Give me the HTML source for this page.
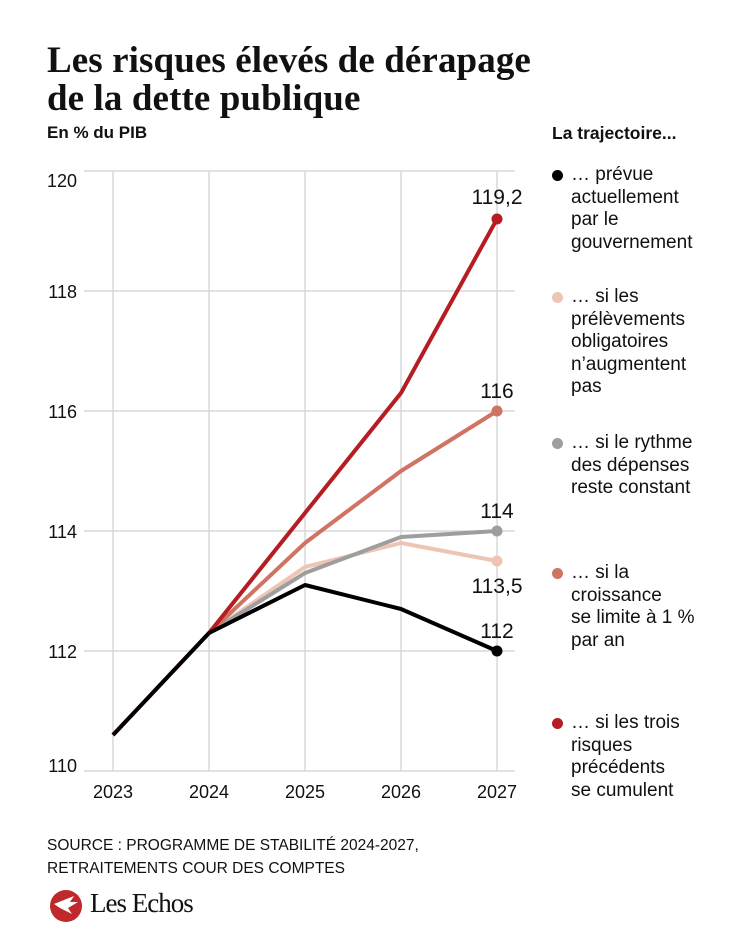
<!DOCTYPE html>
<html><head><meta charset="utf-8"><style>
body{margin:0;background:#fff;width:750px;height:938px;overflow:hidden;font-family:"Liberation Sans",sans-serif;color:#111}
h1{position:absolute;left:47px;top:42px;margin:0;font-family:"Liberation Serif",serif;font-size:37px;line-height:38px;font-weight:bold;letter-spacing:0.1px}
.sub{position:absolute;left:47px;top:123px;font-size:17px;font-weight:bold}
.lt{position:absolute;left:552px;top:123px;font-size:17.5px;font-weight:bold}
.leg{position:absolute;left:571px;font-size:19px;line-height:22.5px}
.dot{position:absolute;left:552px;width:11px;height:11px;border-radius:50%}
.src{position:absolute;left:47px;top:834px;font-size:15.5px;line-height:23px}
.logo{position:absolute;left:47px;top:888px;font-family:"Liberation Serif",serif;font-size:27px;letter-spacing:-1px}
</style></head><body>
<h1>Les risques élevés de dérapage<br>de la dette publique</h1>
<div class="sub">En % du PIB</div>
<div class="lt">La trajectoire...</div>
<svg width="750" height="938" style="position:absolute;left:0;top:0">
<g stroke="#d8d8d8" stroke-width="1.5">
<line x1="84" y1="171" x2="515" y2="171"/><line x1="84" y1="291" x2="515" y2="291"/><line x1="84" y1="411" x2="515" y2="411"/><line x1="84" y1="531" x2="515" y2="531"/><line x1="84" y1="651" x2="515" y2="651"/><line x1="84" y1="771" x2="515" y2="771"/>
<line x1="113" y1="171" x2="113" y2="771"/><line x1="209" y1="171" x2="209" y2="771"/><line x1="305" y1="171" x2="305" y2="771"/><line x1="401" y1="171" x2="401" y2="771"/><line x1="497" y1="171" x2="497" y2="771"/>
</g>
<g font-size="18" fill="#111" text-anchor="end">
<text x="77" y="187">120</text><text x="77" y="298">118</text><text x="77" y="418">116</text><text x="77" y="538">114</text><text x="77" y="658">112</text><text x="77" y="772">110</text></g>
<g font-size="18" fill="#111" text-anchor="middle">
<text x="113" y="798">2023</text><text x="209" y="798">2024</text><text x="305" y="798">2025</text><text x="401" y="798">2026</text><text x="497" y="798">2027</text></g>
<g fill="none" stroke-width="4" stroke-linejoin="round">
<polyline stroke="#eec5b5" points="209,633 305,567 401,543 497,561"/>
<polyline stroke="#9e9e9e" points="209,633 305,573 401,537 497,531"/>
<polyline stroke="#cf7362" points="209,633 305,543 401,471 497,411"/>
<polyline stroke="#b51d22" points="113,735 209,633 305,513 401,393 497,219"/>
<polyline stroke="#000" points="113,735 209,633 305,585 401,609 497,651"/>
</g>
<circle cx="497" cy="219" r="5.5" fill="#b51d22"/><circle cx="497" cy="411" r="5.5" fill="#cf7362"/><circle cx="497" cy="531" r="5.5" fill="#9e9e9e"/><circle cx="497" cy="561" r="5.5" fill="#eec5b5"/><circle cx="497" cy="651" r="5.5" fill="#000"/>
<g font-size="21" fill="#111" text-anchor="middle">
<text x="497" y="204">119,2</text><text x="497" y="398">116</text><text x="497" y="518">114</text><text x="497" y="593">113,5</text><text x="497" y="638">112</text></g>
<circle cx="66" cy="906" r="16" fill="#c0282b"/>
<path d="M54 904 l20 -8 l-4 6 l8 0 l-10 6 l4 6 l-12 -6z" fill="#fff"/>
</svg>
<div class="dot" style="top:170px;background:#000"></div>
<div class="leg" style="top:164px">… prévue<br>actuellement<br>par le<br>gouvernement</div>
<div class="dot" style="top:292px;background:#eec5b5"></div>
<div class="leg" style="top:286px">… si les<br>prélèvements<br>obligatoires<br>n’augmentent<br>pas</div>
<div class="dot" style="top:438px;background:#9e9e9e"></div>
<div class="leg" style="top:432px">… si le rythme<br>des dépenses<br>reste constant</div>
<div class="dot" style="top:568px;background:#cf7362"></div>
<div class="leg" style="top:562px">… si la<br>croissance<br>se limite à 1 %<br>par an</div>
<div class="dot" style="top:718px;background:#b51d22"></div>
<div class="leg" style="top:712px">… si les trois<br>risques<br>précédents<br>se cumulent</div>
<div class="src">SOURCE : PROGRAMME DE STABILITÉ 2024-2027,<br>RETRAITEMENTS COUR DES COMPTES</div>
<div class="logo" style="left:90px">Les Echos</div>
</body></html>
